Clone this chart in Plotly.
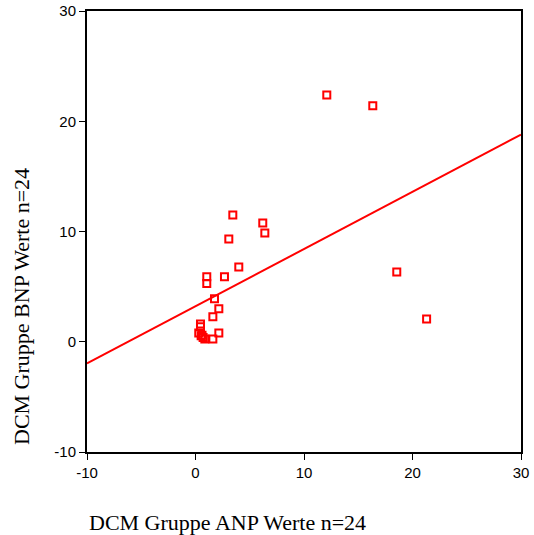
import plotly.graph_objects as go

anp = [3.44, 6.2, 6.39, 3.07, 3.99, 1.04, 1.04, 2.67, 1.75, 2.15, 1.6, 0.46, 0.46,
       0.3, 2.15, 0.52, 0.7, 0.86, 1.6, 0.6, 12.1, 16.34, 18.55, 21.3]
bnp = [11.5, 10.77, 9.86, 9.32, 6.78, 5.9, 5.29, 5.9, 3.9, 2.99, 2.27, 1.6, 1.36,
       0.79, 0.79, 0.54, 0.39, 0.24, 0.24, 0.6, 22.39, 21.4, 6.32, 2.06]
fit_intercept = 3.22
fit_slope = 0.519
x_range = [-10, 30]
y_range = [-10, 30]
tick_vals = [-10, 0, 10, 20, 30]
tick_text = ["-10", "0", "10", "20", "30"]

fit_x = x_range
fit_y = [fit_intercept + fit_slope * v for v in fit_x]

W, H = 534, 535
L, R, T, B = 87, 13, 11, 83

fig = go.Figure()
fig.add_trace(go.Scatter(x=fit_x, y=fit_y, mode="lines",
                         line=dict(color="#ff0000", width=2), showlegend=False,
                         hoverinfo="skip"))
fig.add_trace(go.Scatter(x=anp, y=bnp, mode="markers",
                         marker=dict(symbol="square-open", size=7, color="#ff0000",
                                     line=dict(width=2, color="#ff0000")),
                         showlegend=False))

axis_common = dict(showgrid=False, zeroline=False, showline=True, automargin=False,
                   linecolor="black", linewidth=2, mirror=True, ticks="outside",
                   ticklen=6, tickwidth=1, tickcolor="black",
                   tickfont=dict(family="Liberation Sans, Arial", size=15, color="black"),
                   tickvals=tick_vals, ticktext=tick_text)
fig.update_xaxes(**axis_common, range=x_range)
fig.update_yaxes(**axis_common, range=y_range)

pw = W - L - R
ph = H - T - B
title_font = dict(family="Liberation Serif, Times New Roman", size=22, color="black")
fig.update_layout(
    width=W, height=H,
    margin=dict(l=L, r=R, t=T, b=B),
    plot_bgcolor="white", paper_bgcolor="white",
    annotations=[
        dict(text="DCM Gruppe ANP Werte n=24", xref="paper", yref="paper",
             x=(227 - L) / pw, y=(H - B - 522) / ph, xanchor="center", yanchor="middle",
             showarrow=False, font=title_font),
        dict(text="DCM Gruppe BNP Werte n=24", xref="paper", yref="paper",
             x=(22 - L) / pw, y=(H - B - 307) / ph, xanchor="center", yanchor="middle",
             showarrow=False, textangle=-90, font=title_font),
    ],
)

fig.write_html("out.html", config={"displayModeBar": False},
               post_script="document.body.style.margin='0';")
